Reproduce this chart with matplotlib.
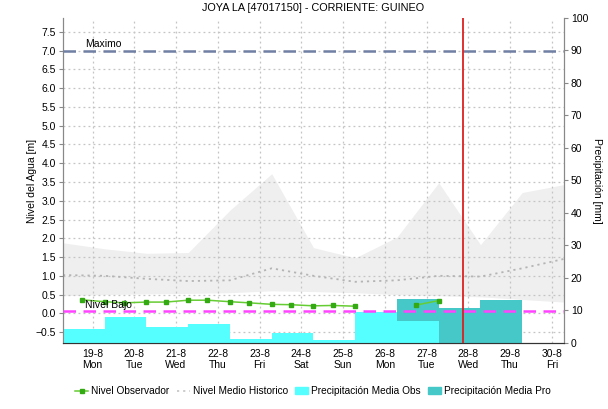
import matplotlib
matplotlib.use("Agg")
import matplotlib.pyplot as plt
import matplotlib.dates as mdates
import pandas as pd
from matplotlib.lines import Line2D
from matplotlib.patches import Patch

plt.rcParams['font.family'] = ['Liberation Sans', 'DejaVu Sans']
plt.rcParams['font.size'] = 7.5

titulo = "JOYA LA [47017150] - CORRIENTE: GUINEO"

# precipitacion diaria (07:00 a 07:00)
dias_obs = pd.to_datetime(["2019-08-18 07:00", "2019-08-19 07:00", "2019-08-20 07:00",
                           "2019-08-21 07:00", "2019-08-22 07:00", "2019-08-23 07:00",
                           "2019-08-24 07:00", "2019-08-25 07:00", "2019-08-26 07:00"])
prec_obs = [4.2, 7.9, 4.8, 5.9, 1.1, 3.1, 0.8, 9.6, 6.8]

dias_pro = pd.to_datetime(["2019-08-26 07:00", "2019-08-27 07:00", "2019-08-28 07:00"])
prec_pro = [13.5, 10.9, 13.3]

# nivel historico (banda y medio)
dias_hist = pd.date_range("2019-08-18 07:00", "2019-08-30 07:00", freq="D")
hist_max = [1.88, 1.72, 1.60, 1.62, 2.75, 3.72, 1.75, 1.48, 2.03, 3.48, 1.83, 3.22, 3.43]
hist_min = [0.47, 0.50, 0.52, 0.53, 0.55, 0.60, 0.58, 0.55, 0.50, 0.47, 0.44, 0.37, 0.30]
hist_medio = [1.02, 1.00, 0.92, 0.86, 0.88, 1.20, 1.00, 0.84, 0.88, 1.00, 0.98, 1.20, 1.45]

# nivel observador
t_obs = pd.to_datetime(["2019-08-18 18:00", "2019-08-19 07:00", "2019-08-19 18:00",
                        "2019-08-20 07:00", "2019-08-20 18:00", "2019-08-21 07:00",
                        "2019-08-21 18:00", "2019-08-22 07:00", "2019-08-22 18:00",
                        "2019-08-23 07:00", "2019-08-23 18:00", "2019-08-24 07:00",
                        "2019-08-24 18:00", "2019-08-25 07:00", "2019-08-25 18:00",
                        "2019-08-26 07:00", "2019-08-26 18:00", "2019-08-27 07:00"])
nivel_obs = [0.36, 0.31, 0.28, 0.30, 0.30, 0.35, 0.35, 0.31, 0.28, 0.24, 0.23, 0.20,
             0.21, 0.19, None, None, 0.22, 0.34]

nivel_maximo = 7.0
nivel_bajo = 0.07
ahora = pd.Timestamp("2019-08-27 21:00")
x_ini = pd.Timestamp("2019-08-18 07:00")
x_fin = pd.Timestamp("2019-08-30 07:00")

fig = plt.figure(figsize=(6.08, 4.09), dpi=100)
ax = fig.add_axes([0.1036, 0.1614, 0.8240, 0.7946])
ax2 = ax.twinx()

# eje de nivel (abajo)
ax.fill_between(dias_hist, hist_min, hist_max, color='#efefef', lw=0, zorder=0.2)
ax.plot(dias_hist, hist_medio, color='#b4b4b4', ls=(0, (1.2, 2.2)), lw=1.3, zorder=1)
ax.set_axisbelow(True)
ax.grid(True, color='#c4c4c4', ls=(0, (1.5, 2.5)), lw=0.9)
ax.set_ylim(-0.79, 7.87)
ax.set_yticks([i * 0.5 for i in range(-1, 16)])
ax.set_xlim(x_ini, x_fin)
ax.xaxis.set_major_locator(mdates.DayLocator())
ax.xaxis.set_major_formatter(plt.FuncFormatter(
    lambda v, p: "%d-%d\n%s" % (mdates.num2date(v).day, mdates.num2date(v).month,
                                mdates.num2date(v).strftime("%a"))))
ax.set_ylabel("Nivel del Agua [m]", labelpad=-1)

# eje de precipitacion (arriba)
ax2.bar(dias_pro, prec_pro, width=1.0, align='edge', color='#46c8c8', lw=0, zorder=1)
ax2.bar(dias_obs, prec_obs, width=1.0, align='edge', color='#55ffff', lw=0, zorder=2)
ax2.set_ylim(0, 100)
ax2.set_yticks(range(0, 101, 10))
ax2.set_ylabel("Precipitación [mm]", rotation=270, labelpad=10)

# lineas de nivel sobre las barras
tr = ax.transData
ax2.plot([x_ini, x_fin], [nivel_maximo, nivel_maximo], color='#7080a4', ls=(0, (5, 3)),
         lw=1.8, transform=tr, zorder=3)
ax2.plot([x_ini, x_fin], [nivel_bajo, nivel_bajo], color='#ff44ff', ls=(0, (5, 3)), lw=1.8,
         transform=tr, zorder=3)
ax2.plot(t_obs, [float('nan') if v is None else v for v in nivel_obs], color='#66cc33',
         lw=1.1, marker='s', ms=2.6, mfc='#33aa11', mec='#33aa11', transform=tr, zorder=4)
ax2.plot([ahora, ahora], [-0.79, 7.87], color='#dd2020', lw=1.3, transform=tr, zorder=5)
ax2.text(pd.Timestamp("2019-08-18 19:30"), nivel_maximo + 0.04, "Maximo", transform=tr,
         fontsize=7.5, va='bottom', zorder=6)
ax2.text(pd.Timestamp("2019-08-18 19:30"), nivel_bajo + 0.03, "Nivel Bajo", transform=tr,
         fontsize=7.5, va='bottom', zorder=6)
ax2.set_xlim(x_ini, x_fin)
ax2.set_ylim(0, 100)

for a in (ax, ax2):
    a.spines['top'].set_visible(False)
    a.spines['left'].set_color('#888888')
    a.spines['right'].set_color('#888888')
    a.spines['bottom'].set_color('#333333')
    a.spines['bottom'].set_linestyle((0, (1, 1)))
    a.tick_params(length=3, color='#888888', labelsize=7.5, pad=2)
ax.tick_params(axis='x', length=0, pad=4)

ax.set_title(titulo, fontsize=7.8, pad=5)

handles = [
    Line2D([], [], color='#66cc33', lw=1.1, marker='s', ms=2.6, mfc='#33aa11', mec='#33aa11'),
    Line2D([], [], color='#c8c8c8', ls=(0, (1.2, 2.2)), lw=1.3),
    Patch(color='#55ffff'),
    Patch(color='#46c8c8'),
]
labels = ["Nivel Observador", "Nivel Medio Historico", "Precipitación Media Obs",
          "Precipitación Media Pro"]
fig.legend(handles, labels, loc='center', bbox_to_anchor=(0.515, 0.043), ncol=4,
           frameon=False, fontsize=7.3, handlelength=1.3, handletextpad=0.3,
           columnspacing=0.7)

fig.savefig("out.png", dpi=100)
